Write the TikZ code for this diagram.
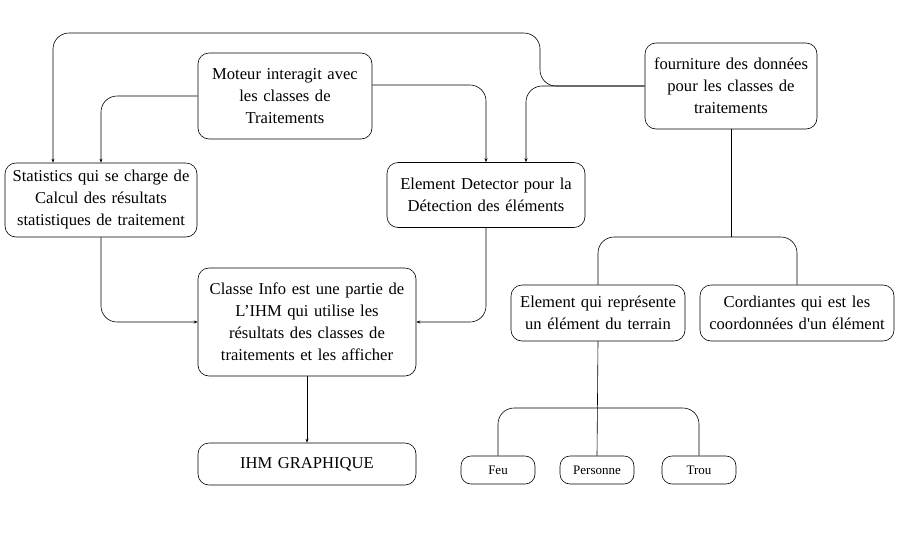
\documentclass[tikz,border=0pt]{standalone}
\usepackage{fontspec}
\setmainfont{Liberation Serif}
\usepackage{tikz}
\usetikzlibrary{arrows.meta, positioning, calc}

\begin{document}
\begin{tikzpicture}[x=1pt, y=-1pt,
  box/.style={draw, line width=0.6pt, rounded corners=11pt, align=center, inner sep=2pt, font=\fontsize{16.6}{22}\selectfont},
  leaf/.style={draw, line width=0.6pt, rounded corners=10pt, align=center, inner sep=2pt, minimum width=74pt, minimum height=28pt, font=\fontsize{13}{15}\selectfont},
  link/.style={line width=0.6pt, rounded corners=16pt},
  arr/.style={link, -{Stealth[length=4pt, width=3pt]}}]
  \useasboundingbox (0,0) rectangle (900,550);

  % Classes de traitements
  \node[box, minimum width=174pt, minimum height=86pt, text width=170pt] (moteur) at (285, 96) {Moteur interagit avec\\les classes de\\Traitements};
  \node[box, minimum width=192pt, minimum height=74pt, text width=188pt] (stats) at (101, 200) {Statistics qui se charge de\\Calcul des résultats\\statistiques de traitement};
  \node[box, minimum width=198pt, minimum height=65pt, text width=194pt] (detect) at (486, 195) {Element Detector pour la\\Détection des éléments};
  \node[box, minimum width=172pt, minimum height=86pt, text width=168pt] (fourn) at (731, 86) {fourniture des données\\pour les classes de\\traitements};

  % IHM
  \node[box, minimum width=218pt, minimum height=108pt, text width=214pt] (info) at (307, 322) {Classe Info est une partie de\\L’IHM qui utilise les\\résultats des classes de\\traitements et les afficher};
  \node[box, minimum width=218pt, minimum height=42pt, text width=214pt] (ihm) at (307, 464) {IHM GRAPHIQUE};

  % Donnees
  \node[box, minimum width=174pt, minimum height=56pt, text width=170pt] (elem) at (598, 313) {Element qui représente\\un élément du terrain};
  \node[box, minimum width=194pt, minimum height=56pt, text width=190pt] (cord) at (797, 313) {Cordiantes qui est les\\coordonnées d\textquotesingle un élément};
  \node[leaf] (feu) at (498, 470) {Feu};
  \node[leaf] (pers) at (597, 470) {Personne};
  \node[leaf] (trou) at (699, 470) {Trou};

  \coordinate (top) at (540, 33);
  \coordinate (split1) at (731, 237);
  \coordinate (split2) at (597, 408);

  % Connecteurs
  \draw[arr] (moteur.west) -| (stats.north);
  \draw[arr] ([yshift=11pt]moteur.east) -| (detect.north);
  \draw[arr] (fourn.west) -| ([xshift=40pt]detect.north);
  \draw[arr] (fourn.west) -- (top |- fourn.west) -- (top) -| ([xshift=-48pt]stats.north);
  \draw[arr] (stats.south) |- (info.west);
  \draw[arr] (detect.south) |- (info.east);
  \draw[arr] (info.south) -- (ihm.north);

  \draw[link] (fourn.south) -- (split1);
  \draw[link] (elem.north) |- (split1) -| (cord.north);
  \draw[link] (elem.south) -- (pers.north);
  \draw[link] (feu.north) |- (split2) -| (trou.north);
\end{tikzpicture}
\end{document}
